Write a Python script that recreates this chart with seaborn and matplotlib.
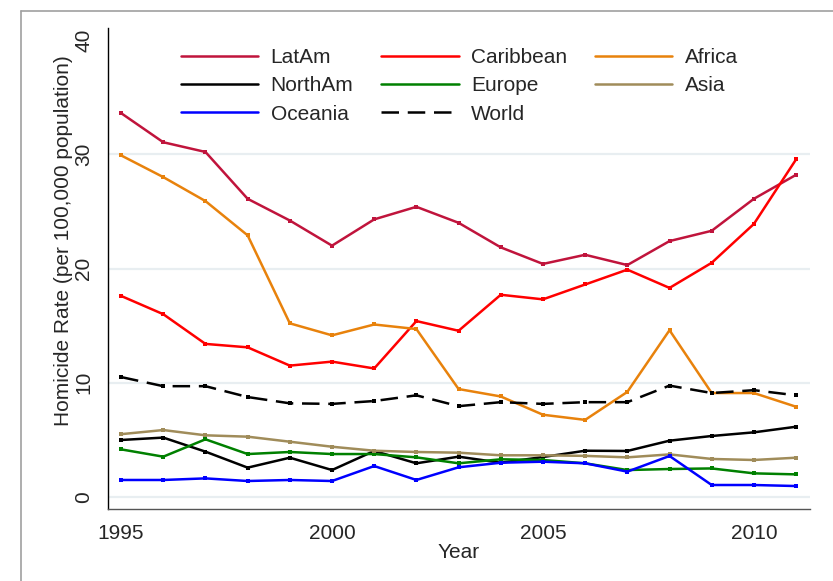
import seaborn as sns, matplotlib.pyplot as plt, pandas as pd, numpy as np
from matplotlib.lines import Line2D

years = list(range(1995, 2012))

latam     = [33.6, 31.05, 30.2, 26.1, 24.2, 22.0, 24.3, 25.4, 24.0, 21.85, 20.4, 21.2, 20.3, 22.4, 23.3, 26.1, 28.2]
caribbean = [17.6, 16.0, 13.4, 13.1, 11.5, 11.85, 11.25, 15.4, 14.55, 17.7, 17.3, 18.6, 19.9, 18.3, 20.5, 23.9, 29.55]
africa    = [29.9, 28.0, 25.9, 22.9, 15.2, 14.15, 15.1, 14.7, 9.45, 8.8, 7.2, 6.75, 9.2, 14.6, 9.1, 9.1, 7.9]
northam   = [4.99, 5.2, 3.97, 2.57, 3.44, 2.36, 4.03, 2.95, 3.53, 3.0, 3.5, 4.05, 4.03, 4.93, 5.34, 5.66, 6.15]
europe    = [4.17, 3.53, 5.05, 3.76, 3.94, 3.76, 3.76, 3.47, 2.95, 3.3, 3.24, 2.95, 2.36, 2.45, 2.5, 2.07, 1.98]
asia      = [5.5, 5.86, 5.4, 5.28, 4.84, 4.4, 4.05, 3.94, 3.88, 3.65, 3.65, 3.6, 3.47, 3.73, 3.33, 3.24, 3.44]
oceania   = [1.49, 1.49, 1.63, 1.4, 1.49, 1.4, 2.71, 1.49, 2.6, 3.0, 3.09, 2.95, 2.22, 3.59, 1.05, 1.05, 0.96]
world     = [10.5, 9.7, 9.7, 8.75, 8.2, 8.15, 8.4, 8.9, 7.95, 8.3, 8.15, 8.3, 8.3, 9.75, 9.1, 9.35, 8.9]

regions = ['LatAm', 'Caribbean', 'Africa', 'NorthAm', 'Europe', 'Asia', 'Oceania', 'World']
series = [latam, caribbean, africa, northam, europe, asia, oceania, world]
colors = ['#c0143c', '#ff0000', '#e8820c', '#000000', '#008000', '#a08c5a', '#0000ff', '#000000']
x_ticks = [1995, 2000, 2005, 2010]
y_ticks = [0, 10, 20, 30, 40]

df = pd.DataFrame({'Year': years * len(regions),
                   'Rate': np.concatenate(series),
                   'Region': np.repeat(regions, len(years))})

sns.set_style('white')
plt.rcParams['font.family'] = ['Liberation Sans', 'DejaVu Sans']

fig = plt.figure(figsize=(8.33, 5.81), dpi=100)
ax = fig.add_axes([108/833, 1 - 509/581, (810-108)/833, (509-28)/581])

palette = dict(zip(regions, colors))
dashes = {r: '' for r in regions}
dashes['World'] = (7, 3.5)
markers = {r: 's' for r in regions}

sns.lineplot(data=df, x='Year', y='Rate', hue='Region', style='Region',
             hue_order=regions, style_order=regions, palette=palette,
             dashes=dashes, markers=markers, markersize=3.4, markeredgewidth=0,
             linewidth=1.8, ax=ax)

ax.set_xlim(1994.69, 2011.33)
ax.set_ylim(-1.05, 41.05)
ax.set_xticks(x_ticks)
ax.set_yticks(y_ticks)
for s in ['top', 'right']:
    ax.spines[s].set_visible(False)
for s in ['left', 'bottom']:
    ax.spines[s].set_color('#000000')
    ax.spines[s].set_linewidth(1.0)
ax.spines['bottom'].set_color('#555555')
ax.tick_params(axis='both', direction='out', length=6.5, width=1, color='#555555', labelsize=15, pad=4)
for lab in ax.get_yticklabels():
    lab.set_rotation(90)
    lab.set_va('center')
ax.yaxis.grid(True, color='#e8eef1', linewidth=1.6)
ax.get_ygridlines()[-1].set_visible(False)
ax.set_axisbelow(True)

ax.set_xlabel('Year', fontsize=15)
ax.set_ylabel('Homicide Rate (per 100,000 population)', fontsize=15)
ax.xaxis.set_label_coords(0.5, -0.07)
ax.yaxis.set_label_coords(-0.05, 0.557)

# legend, filled column by column to get the row layout
h, l = ax.get_legend_handles_labels()
hd = dict(zip(l, h))
order = ['LatAm', 'NorthAm', 'Oceania', 'Caribbean', 'Europe', 'World', 'Africa', 'Asia']
handles = []
for r in order:
    src = hd[r]
    handles.append(Line2D([], [], color=src.get_color(), linestyle=src.get_linestyle(),
                          dashes=dashes[r] if r == 'World' else (None, None), linewidth=1.8))
ax.legend(handles, order, ncol=3, frameon=False, fontsize=15,
          loc='upper left', bbox_to_anchor=(181/833, 1 - 48/581), bbox_transform=fig.transFigure,
          borderaxespad=0, borderpad=0, handlelength=3.7, handletextpad=0.6,
          columnspacing=1.35, labelspacing=0.45)

# screenshot frame
fig.add_artist(Line2D([21/833, 1], [1 - 11/581, 1 - 11/581], color='#a0a0a0', linewidth=1.2, transform=fig.transFigure))
fig.add_artist(Line2D([21/833, 21/833], [0, 1 - 11/581], color='#a0a0a0', linewidth=1.2, transform=fig.transFigure))

fig.savefig('out.png', dpi=100)
